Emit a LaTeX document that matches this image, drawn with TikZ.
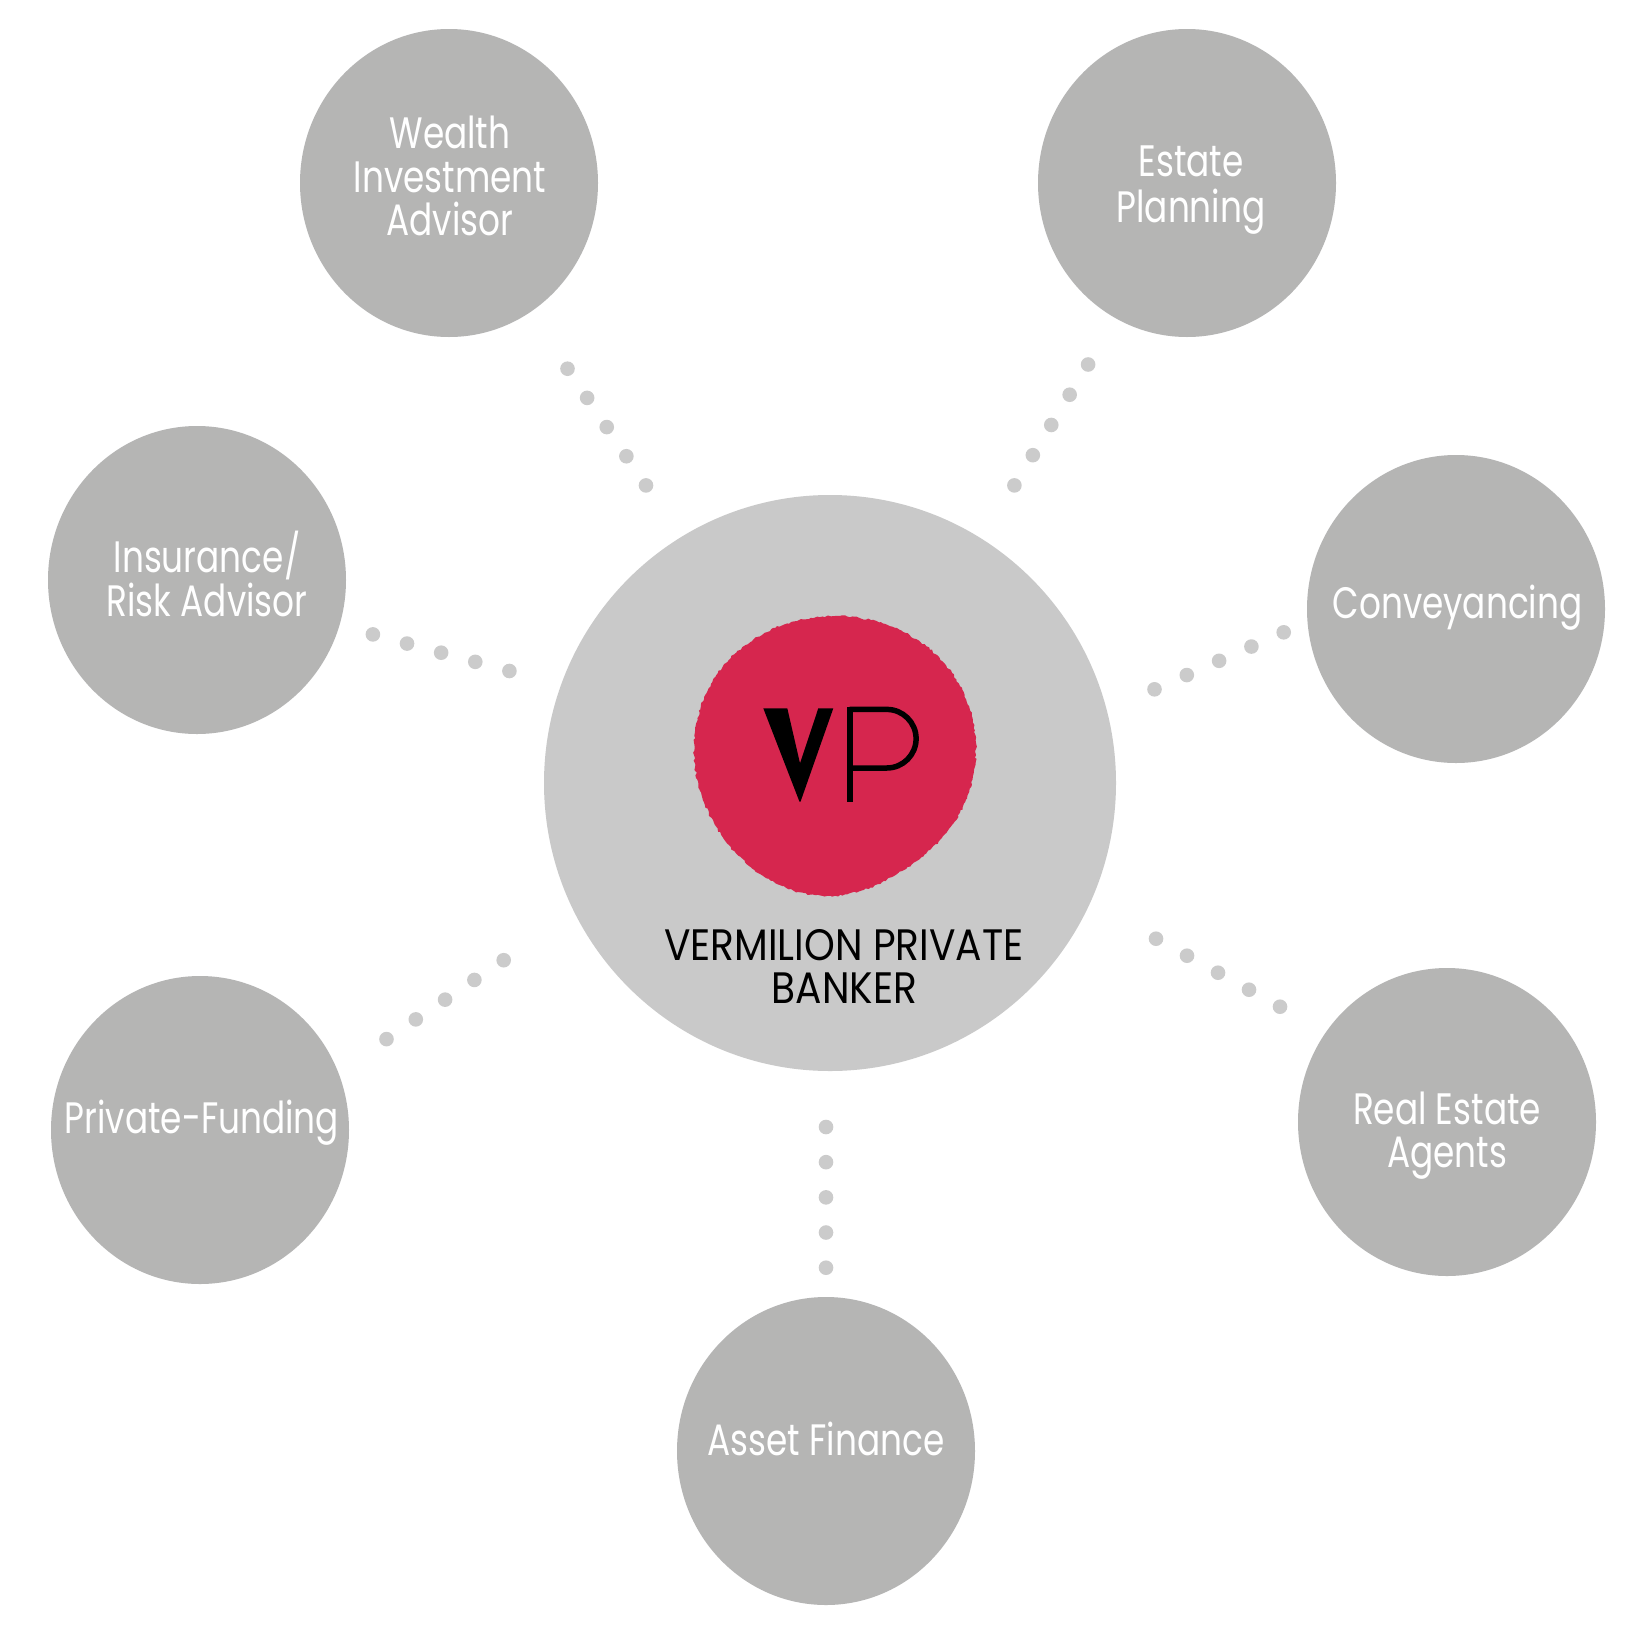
\documentclass[tikz,border=0pt]{standalone}
\usepackage{fontspec}
\newfontfamily\lblfont{Poppins}[FakeStretch=0.78]
\newfontfamily\hubfont{Poppins}[FakeStretch=0.89]
\usetikzlibrary{shapes.geometric,calc,decorations.pathmorphing}
\definecolor{satgray}{RGB}{181,181,180}
\definecolor{hubgray}{RGB}{201,201,201}
\definecolor{dotgray}{RGB}{203,203,203}
\definecolor{vpred}{RGB}{214,38,78}
\tikzset{
  sat/.style={ellipse,fill=satgray,minimum width=298pt,minimum height=308pt,inner sep=0pt},
  hub/.style={ellipse,fill=hubgray,minimum width=572pt,minimum height=576pt,inner sep=0pt},
  lbl/.style={anchor=base,inner sep=0pt,text=white,font=\lblfont\fontsize{44}{44}\selectfont},
  hubtxt/.style={anchor=base,inner sep=0pt,text=black,font=\hubfont\fontsize{44}{44}\selectfont},
  dotpt/.style={fill=dotgray}
}
\newcommand\dotline[2]{\foreach \t in {0,0.25,0.5,0.75,1}{\fill[dotpt] ($(#1)!\t!(#2)$) circle[radius=7.3pt];}}
\begin{document}
\begin{tikzpicture}[x=1pt,y=-1pt]
\pgfmathsetseed{7}
\useasboundingbox (0,0) rectangle (1633,1641);
\fill[white] (0,0) rectangle (1633,1641);
% hub
\node[hub] (hub) at (830,783) {};
% satellites
\node[sat] (wealth) at (449,183) {};
\node[sat] (estate) at (1187,183) {};
\node[sat] (insur) at (197,580) {};
\node[sat] (convey) at (1456,609) {};
\node[sat] (priv) at (200,1130) {};
\node[sat] (realest) at (1447,1122) {};
\node[sat] (asset) at (826,1451) {};
% labels
\node[lbl] (wl1) at (450,148) {Wealth};
\node[lbl] (wl2) at (450,192.5) {Investment};
\node[lbl] (wl3) at (450,235) {Advisor};
\node[lbl] (el1) at (1191,176.8) {Estate};
\node[lbl] (el2) at (1191,222.3) {Planning};
\node[lbl] (il1) at (207,572.7) {Insurance/};
\node[lbl] (il2) at (207,616) {Risk Advisor};
\node[lbl] (cl1) at (1457.6,618.2) {Conveyancing};
\node[lbl] (pl1) at (202,1133.8) {Private-Funding};
\node[lbl] (rl1) at (1447,1124.4) {Real Estate};
\node[lbl] (rl2) at (1447,1167.8) {Agents};
\node[lbl] (al1) at (826,1455.5) {Asset Finance};
% dotted connectors
\coordinate (a1) at (567.5,368.7); \coordinate (a2) at (646,485.4);
\coordinate (b1) at (1088.1,364.5); \coordinate (b2) at (1014.4,485.4);
\coordinate (c1) at (372.9,634.4); \coordinate (c2) at (509.4,671);
\coordinate (d1) at (1283.7,632.3); \coordinate (d2) at (1154.5,689.3);
\coordinate (e1) at (503.7,960.2); \coordinate (e2) at (386.5,1039.1);
\coordinate (f1) at (1156,938.7); \coordinate (f2) at (1280,1006.7);
\coordinate (g1) at (826,1127); \coordinate (g2) at (826,1267.7);
\dotline{a1}{a2}
\dotline{b1}{b2}
\dotline{c1}{c2}
\dotline{d1}{d2}
\dotline{e1}{e2}
\dotline{f1}{f2}
\dotline{g1}{g2}
% red blob
\fill[vpred,decorate,decoration={random steps,segment length=2.5pt,amplitude=1pt}]
  plot[smooth cycle,variable=\a,domain=0:355,samples=72]
  ({835+(141-7*exp(-((\a-300)/28)^2)+2*sin(3*\a))*cos(\a)},{755-(141-7*exp(-((\a-300)/28)^2)+2*sin(3*\a))*sin(\a)});
% V
\fill[black] (763.3,708.3) -- (787.3,708.3) -- (800,763.3) -- (818.3,708.3) -- (833.3,708.3) -- (800.5,801.7) -- (799.5,801.7) -- cycle;
% P
\fill[black] (846.7,706.7) rectangle (852.7,801.7);
\draw[black,line width=5.5pt] (849.7,709.4) -- (886.8,709.4) arc[start angle=90,end angle=-90,radius=29.3pt] -- (849.7,768);
% hub text
\node[hubtxt] (ht1) at (843.7,960) {VERMILION PRIVATE};
\node[hubtxt] (ht2) at (844.4,1003) {BANKER};
\end{tikzpicture}
\end{document}
